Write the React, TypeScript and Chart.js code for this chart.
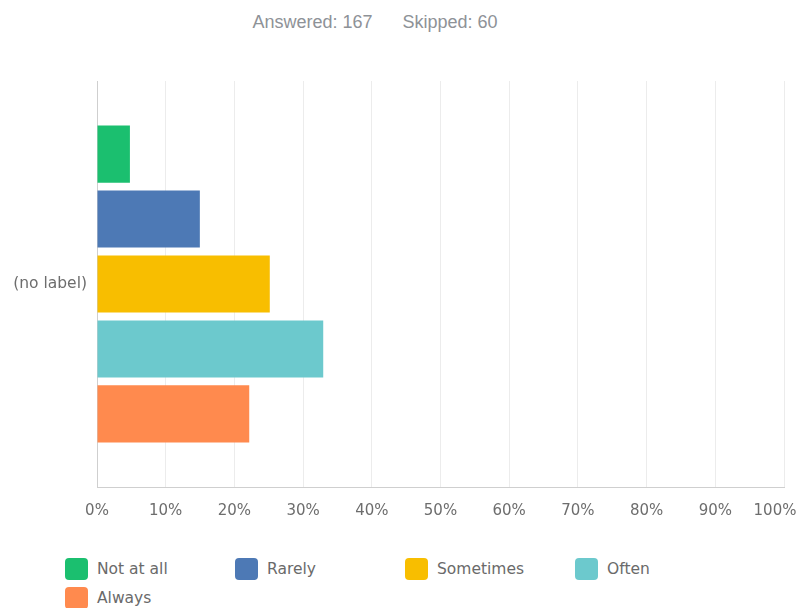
import React, { useEffect, useRef } from "react";
import { Chart, registerables } from "chart.js";

Chart.register(...registerables);

const answered = 167;
const skipped = 60;
const categories = ["(no label)"];
const responseLabels = ["Not at all", "Rarely", "Sometimes", "Often", "Always"];
const responsePercents = [4.79, 14.97, 25.15, 32.93, 22.16];
const responseColors = ["#1bbf6f", "#4d79b5", "#f8be00", "#6cc9cd", "#ff8a4e"];
const xTicks = [0, 10, 20, 30, 40, 50, 60, 70, 80, 90, 100];

const xTickFont = { family: "'DejaVu Sans', sans-serif", size: 15 };
const yTickFont = { family: "'DejaVu Sans', sans-serif", size: 15.5 };

export default function App() {
  const ref = useRef<HTMLCanvasElement | null>(null);

  useEffect(() => {
    if (!ref.current) return;
    const chart = new Chart(ref.current, {
      type: "bar",
      data: {
        labels: categories,
        datasets: responseLabels.map((label, i) => ({
          label,
          data: [responsePercents[i]],
          backgroundColor: responseColors[i],
          borderWidth: 0,
          categoryPercentage: 0.8,
          barPercentage: 0.88,
        })),
      },
      options: {
        indexAxis: "y",
        responsive: false,
        animation: false,
        layout: { padding: { top: 81, right: 14, left: 0, bottom: 0 } },
        plugins: {
          legend: { display: false },
          tooltip: { enabled: false },
          title: { display: false },
        },
        scales: {
          x: {
            min: xTicks[0],
            max: xTicks[xTicks.length - 1],
            afterFit: (s: any) => {
              s.height = 53;
              s.paddingRight = 0;
              s.paddingLeft = 0;
            },
            afterBuildTicks: (s: any) => {
              s.ticks = xTicks.map((v) => ({ value: v }));
            },
            ticks: {
              color: "#6d6d6d",
              font: xTickFont,
              padding: 15,
              maxRotation: 0,
              autoSkip: false,
              // the last label is nudged left (trailing spaces) so it stays inside the canvas
              callback: (v: any) =>
                v === xTicks[xTicks.length - 1] ? v + "%\u2003\u2009" : v + "%",
            },
            grid: { color: "#ececec", drawTicks: false, lineWidth: 1 },
            border: { color: "#cfcfcf", width: 1 },
          },
          y: {
            afterFit: (s: any) => {
              s.width = 97;
              s.paddingTop = 0;
              s.paddingBottom = 0;
            },
            ticks: { color: "#6d6d6d", font: yTickFont, padding: 10 },
            grid: { display: false, drawTicks: false },
            border: { display: true, color: "#cfcfcf", width: 1 },
          },
        },
      },
    });
    return () => chart.destroy();
  }, []);

  return (
    <div
      style={{
        position: "absolute",
        left: 0,
        top: 0,
        width: 798,
        height: 608,
        background: "#ffffff",
        overflow: "hidden",
      }}
    >
      <div
        style={{
          position: "absolute",
          top: 12,
          left: 0,
          width: 750,
          height: 20,
          lineHeight: "20px",
          textAlign: "center",
          fontFamily: "'Liberation Sans', Arial, sans-serif",
          fontSize: 18,
          color: "#8e9297",
          whiteSpace: "pre",
        }}
      >
        <span>Answered: {answered}</span>
        <span style={{ marginLeft: 30 }}>Skipped: {skipped}</span>
      </div>
      <canvas
        ref={ref}
        width={798}
        height={540}
        style={{ position: "absolute", left: 0, top: 0, width: 798, height: 540 }}
      />
      <div
        style={{
          position: "absolute",
          left: 65,
          top: 558,
          width: 720,
          display: "flex",
          flexWrap: "wrap",
          fontFamily: "'DejaVu Sans', sans-serif",
          fontSize: 15.5,
          color: "#6a6a6a",
        }}
      >
        {responseLabels.map((label, i) => (
          <div
            key={label}
            style={{
              width: 170,
              height: 29,
              display: "flex",
              alignItems: "flex-start",
            }}
          >
            <span
              style={{
                display: "inline-block",
                width: 23,
                height: 22,
                borderRadius: 4,
                background: responseColors[i],
                marginRight: 9,
                flex: "none",
              }}
            />
            <span style={{ lineHeight: "22px" }}>{label}</span>
          </div>
        ))}
      </div>
    </div>
  );
}
